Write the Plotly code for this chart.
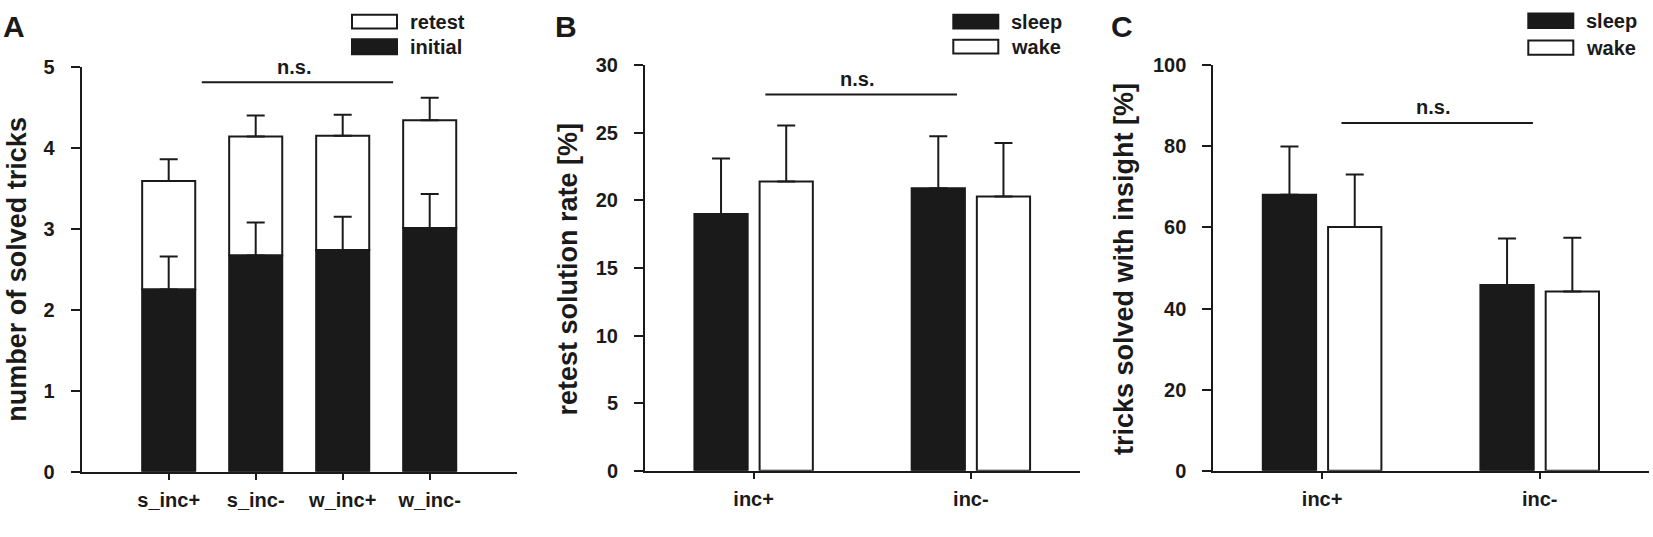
import plotly.graph_objects as go

W, H = 1653, 537
INK = "#1a1a1a"
FONT = "Liberation Sans, Arial, sans-serif"

# ---- panel A: number of solved tricks (stacked initial + retest)
groups_a = ["s_inc+", "s_inc-", "w_inc+", "w_inc-"]
initial = [2.25, 2.67, 2.74, 3.01]
initial_err = [0.41, 0.41, 0.41, 0.42]
retest = [1.34, 1.47, 1.41, 1.33]
retest_err = [0.27, 0.26, 0.26, 0.28]

# ---- panel B: retest solution rate [%]
groups_bc = ["inc+", "inc-"]
sleep_rate = [19.0, 20.9]
sleep_rate_err = [4.1, 3.85]
wake_rate = [21.4, 20.3]
wake_rate_err = [4.15, 3.95]

# ---- panel C: tricks solved with insight [%]
sleep_insight = [68.1, 45.8]
sleep_insight_err = [11.9, 11.5]
wake_insight = [60.1, 44.2]
wake_insight_err = [13.0, 13.3]


def px_x(p):
    return p / W


def px_y(p):
    return 1 - p / H


def err(vals):
    return dict(type="data", array=vals, arrayminus=[0] * len(vals), symmetric=False,
                color=INK, thickness=2, width=9, visible=True)


def bar(x, y, fill, e, xa, ya, width, offset, base=None):
    return go.Bar(x=x, y=y, base=base, width=width, offset=offset,
                  marker=dict(color=fill, line=dict(color=INK, width=2)),
                  error_y=err(e), xaxis=xa, yaxis=ya, showlegend=False)


fig = go.Figure()

# retest first so the initial error bars stay on top of the white bars
fig.add_trace(bar(groups_a, retest, "white", retest_err, "x", "y", 0.61, -0.305, base=initial))
fig.add_trace(bar(groups_a, initial, INK, initial_err, "x", "y", 0.61, -0.305))

fig.add_trace(bar(groups_bc, sleep_rate, INK, sleep_rate_err, "x2", "y2", 0.245, -0.2725))
fig.add_trace(bar(groups_bc, wake_rate, "white", wake_rate_err, "x2", "y2", 0.245, 0.0275))

fig.add_trace(bar(groups_bc, sleep_insight, INK, sleep_insight_err, "x3", "y3", 0.245, -0.2725))
fig.add_trace(bar(groups_bc, wake_insight, "white", wake_insight_err, "x3", "y3", 0.245, 0.0275))

tickfont = dict(family=FONT, size=20, color=INK, weight="bold")


def xaxis(dom, cats, rng):
    return dict(domain=[px_x(dom[0]), px_x(dom[1])], type="category", categoryorder="array",
                categoryarray=cats, range=rng, showline=True, linewidth=2, linecolor=INK,
                ticks="outside", ticklen=6, tickwidth=2, tickcolor=INK, tickfont=tickfont,
                showgrid=False, zeroline=False, ticklabelstandoff=3)


def yaxis(dom, anchor, rng, dtick):
    return dict(domain=[px_y(dom[1]), px_y(dom[0])], anchor=anchor, range=rng, dtick=dtick,
                tick0=0, showline=True, linewidth=2, linecolor=INK, ticks="outside",
                ticklen=9, tickwidth=2, tickcolor=INK, tickfont=tickfont, showgrid=False,
                zeroline=False, ticklabelstandoff=12)


fig.update_layout(
    width=W, height=H, margin=dict(l=0, r=0, t=0, b=0),
    paper_bgcolor="white", plot_bgcolor="white", barmode="group",
    font=dict(family=FONT, color=INK),
    xaxis=xaxis((81.7, 516.7), groups_a, [-1, 4]) | dict(anchor="y"),
    yaxis=yaxis((58.3, 480.5), "x", [0, 5], 1),
    xaxis2=xaxis((645, 1079.5), groups_bc, [-0.5, 1.5]) | dict(anchor="y2"),
    yaxis2=yaxis((56.7, 479.3), "x2", [0, 30], 5),
    xaxis3=xaxis((1213.3, 1648.5), groups_bc, [-0.5, 1.5]) | dict(anchor="y3"),
    yaxis3=yaxis((56.7, 479.3), "x3", [0, 100], 20),
)

# significance bars
ns_marks = [
    ("x", "y", 0.38, 2.58, 4.81, 1.44, 5.0),
    ("x2", "y2", 0.054, 0.936, 27.84, 0.476, 29.0),
    ("x3", "y3", 0.089, 0.969, 85.8, 0.51, 89.7),
]
for xr, yr, x0, x1, yl, xt, yt in ns_marks:
    fig.add_shape(type="line", xref=xr, yref=yr, x0=x0, x1=x1, y0=yl, y1=yl,
                  line=dict(color=INK, width=2))
    fig.add_annotation(xref=xr, yref=yr, x=xt, y=yt, text="<b>n.s.</b>", showarrow=False,
                       font=dict(size=20, color=INK, family=FONT))

# y axis titles
titles = [
    (16.7, "number of solved tricks"),
    (567.5, "retest solution rate [%]"),
    (1124, "tricks solved with insight [%]"),
]
for xc, t in titles:
    fig.add_annotation(xref="paper", yref="paper", x=px_x(xc), y=px_y(269), text=f"<b>{t}</b>",
                       textangle=-90, showarrow=False, xanchor="center", yanchor="middle",
                       font=dict(size=27, color=INK, family=FONT))

# panel letters
for xc, t in [(14, "A"), (566, "B"), (1122, "C")]:
    fig.add_annotation(xref="paper", yref="paper", x=px_x(xc), y=px_y(16), text=f"<b>{t}</b>",
                       showarrow=False, xanchor="center", yanchor="middle",
                       font=dict(size=30, color=INK, family=FONT))

# legends
legends = [
    (352, [("retest", "white", 4, 18.3), ("initial", INK, 29.5, 45)]),
    (953.3, [("sleep", INK, 4, 18.3), ("wake", "white", 30, 44.3)]),
    (1528.3, [("sleep", INK, 2.7, 17.7), ("wake", "white", 30.7, 45.7)]),
]
for x0, items in legends:
    for label, fill, y0, y1 in items:
        fig.add_shape(type="rect", xref="paper", yref="paper", x0=px_x(x0), x1=px_x(x0 + 45),
                      y0=px_y(y1), y1=px_y(y0), fillcolor=fill, line=dict(color=INK, width=2))
        fig.add_annotation(xref="paper", yref="paper", x=px_x(x0 + 56), y=px_y((y0 + y1) / 2),
                           text=f"<b>{label}</b>", showarrow=False, xanchor="left",
                           yanchor="middle", font=dict(size=20, color=INK, family=FONT))

fig.write_html("out.html", config={"displayModeBar": False},
               post_script="document.body.style.margin='0';")
